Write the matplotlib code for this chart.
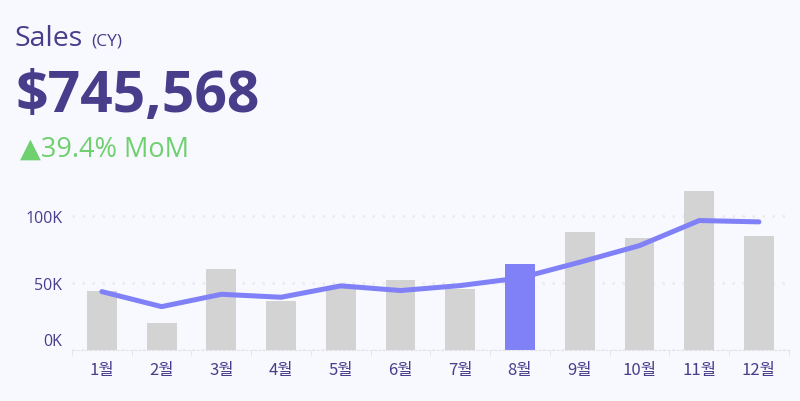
import numpy as np
import matplotlib.pyplot as plt
from matplotlib.transforms import ScaledTranslation

# 월별 매출 (막대) 과 추세선 (선)
months = ['1월', '2월', '3월', '4월', '5월', '6월', '7월', '8월', '9월', '10월', '11월', '12월']
sales = [44000, 20000, 60500, 36800, 46500, 52000, 45300, 64200, 88300, 83300, 118700, 84600]
trend = [43500, 32300, 41500, 39300, 47800, 44300, 48000, 53700, 65400, 77800, 96500, 95500]
highlight = 7  # 8월

bg = '#f8f8ff'
navy = '#483d8b'
purple = '#8080f7'
green = '#6fd06f'
gray = '#d3d3d3'

fig = plt.figure(figsize=(8, 4.02), dpi=100, facecolor=bg)
ax = fig.add_axes([0.09, 0.127, 0.896, 0.417], facecolor=bg)

x = np.arange(len(months))
colors = [purple if i == highlight else gray for i in x]
ax.bar(x, sales, width=0.5, color=colors, zorder=2)
ax.plot(x, trend, color=purple, lw=3.6, solid_capstyle='round', solid_joinstyle='round', zorder=3)

ax.set_xlim(-0.5, len(months) - 0.5)
ax.set_ylim(0, 125000)

ax.set_yticks([0, 50000, 100000])
ax.set_yticklabels(['0K', '50K', '100K'])
ax.grid(axis='y', color='#e9e9ee', linestyle=(0, (1, 3)), lw=1.8, zorder=0)
ax.set_xticks(x)
ax.set_xticklabels(months, family=['Noto Sans CJK KR', 'DejaVu Sans'])
ax.set_xticks(np.arange(len(months) + 1) - 0.5, minor=True)

for s in ['top', 'right', 'left']:
    ax.spines[s].set_visible(False)
ax.spines['bottom'].set_color('#e3e3e8')
ax.spines['bottom'].set_linestyle((0, (2, 2)))

ax.tick_params(axis='x', which='major', length=0, pad=8, labelsize=12, labelcolor=navy)
ax.tick_params(axis='x', which='minor', length=4, color='#e3e3e8')
ax.tick_params(axis='y', length=0, pad=7, labelsize=11.5, labelcolor=navy)
for lab in ax.get_yticklabels():
    lab.set_family(['Open Sans', 'DejaVu Sans'])
# 0K 라벨은 축선 위로 조금 올림
zero = ax.get_yticklabels()[0]
zero.set_transform(zero.get_transform() + ScaledTranslation(0, 11 / 100, fig.dpi_scale_trans))

# 제목 영역
fig.text(14 / 800, 1 - 46 / 402, 'Sales', color=navy, fontsize=20.5, family='Open Sans', va='baseline')
fig.text(91 / 800, 1 - 46 / 402, '(CY)', color=navy, fontsize=12.5, family='Open Sans', va='baseline')
fig.text(15 / 800, 1 - 112 / 402, '$745,568', color=navy, fontsize=41, fontweight='bold',
         family='Open Sans', va='baseline')
fig.text(20 / 800, 1 - 157 / 402, '▲39.4% MoM', color=green, fontsize=19.5,
         family=['Open Sans', 'DejaVu Sans'], va='baseline')

fig.savefig('out.png', dpi=100, facecolor=bg)
